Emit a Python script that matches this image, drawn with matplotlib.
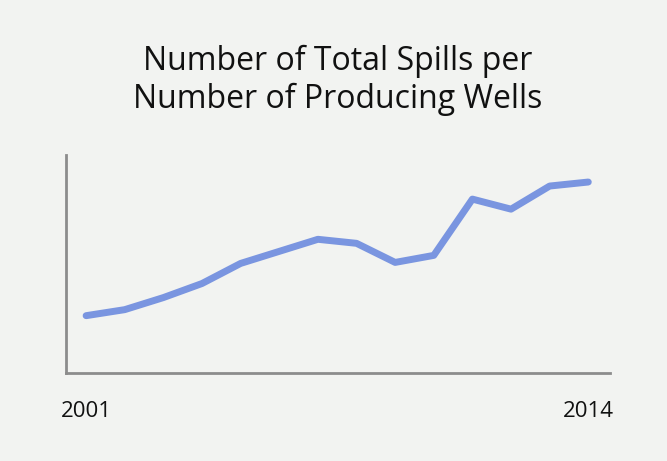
import numpy as np
import matplotlib.pyplot as plt

# values (arbitrary units, axis floor = 0)
years = list(range(2001, 2015))
spills_per_well = [0.57, 0.63, 0.75, 0.89, 1.09, 1.21, 1.33, 1.29, 1.10, 1.17, 1.73, 1.63, 1.86, 1.90]
tick_years = [2001, 2014]

bg = '#f2f3f1'
line_col = '#7a95e0'
axis_col = '#8c8c8c'

plt.rcParams['font.family'] = ['Open Sans', 'DejaVu Sans']

fig = plt.figure(figsize=(6.67, 4.61), dpi=100, facecolor=bg)
ax = fig.add_axes([0.099, 0.191, 0.816, 0.473], facecolor=bg)

ax.plot(years, spills_per_well, color=line_col, lw=5, solid_capstyle='round', solid_joinstyle='round')

ax.set_xlim(2000.48, 2014.57)
ax.set_ylim(0, 2.17)

for s in ['top', 'right']:
    ax.spines[s].set_visible(False)
for s in ['left', 'bottom']:
    ax.spines[s].set_color(axis_col)
    ax.spines[s].set_linewidth(2)

ax.set_yticks([])
ax.set_xticks(tick_years)
ax.set_xticklabels([str(y) for y in tick_years], fontsize=16, color='#111111')
ax.tick_params(axis='x', length=0, pad=20)

fig.text(0.507, 0.826, 'Number of Total Spills per\nNumber of Producing Wells',
         ha='center', va='center', fontsize=23, color='#111111', linespacing=1.2)

fig.savefig('out.png', dpi=100, facecolor=bg)
